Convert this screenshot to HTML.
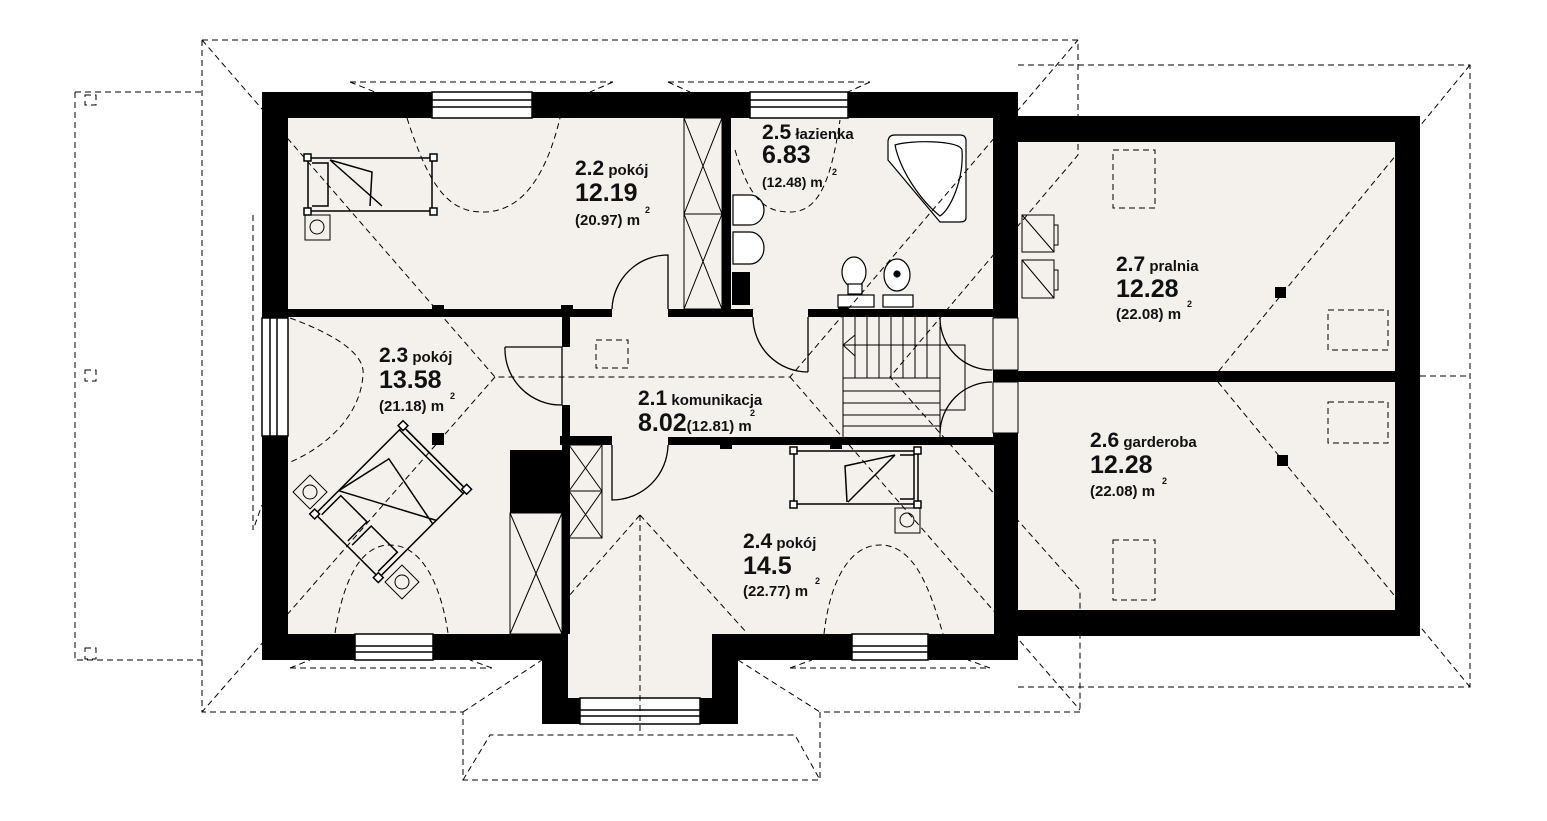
<!DOCTYPE html>
<html><head><meta charset="utf-8"><style>
html,body{margin:0;padding:0;background:#fff}
svg{display:block}
text{font-family:"Liberation Sans Narrow","Liberation Sans",sans-serif;fill:#111;font-weight:bold}
.n{font-size:21px}.b{font-size:25px}.s{font-size:15px;font-weight:normal}.w{font-size:15px}.sup{font-size:9px}
</style></head><body>
<svg width="1547" height="821" viewBox="0 0 1547 821" xmlns="http://www.w3.org/2000/svg">
<rect width="1547" height="821" fill="#fff"/>
<rect x="262" y="92" width="756" height="568" fill="#000"/>
<rect x="542" y="630" width="196" height="94" fill="#000"/>
<rect x="1018" y="116" width="402" height="520" fill="#000"/>
<g fill="#f4f1ec">
<rect x="288" y="118" width="434" height="191"/>
<rect x="731" y="118" width="262" height="191"/>
<rect x="288" y="317" width="705" height="120"/>
<rect x="612" y="308" width="56" height="10"/>
<rect x="753" y="308" width="55" height="10"/>
<rect x="568" y="445" width="426" height="189"/>
<rect x="568" y="630" width="144" height="68"/>
<rect x="612" y="436" width="56" height="10"/>
<rect x="288" y="436" width="274" height="198"/>
<rect x="1018" y="142" width="377" height="229"/>
<rect x="1018" y="382" width="377" height="228"/>
<rect x="993" y="318" width="25" height="52"/>
<rect x="993" y="382" width="25" height="51"/>
</g>
<g fill="#000">
<rect x="562" y="317" width="8" height="30"/>
<rect x="562" y="405" width="8" height="229"/>
<rect x="560" y="436" width="52" height="9"/>
<rect x="510" y="450" width="52" height="63"/>
<rect x="732" y="272" width="18" height="33"/>
<rect x="432" y="305" width="12" height="12"/>
<rect x="561" y="305" width="12" height="12"/>
<rect x="432" y="433" width="12" height="12"/>
<rect x="1275" y="287" width="11" height="11"/>
<rect x="1277" y="455" width="11" height="11"/>
<rect x="838" y="305" width="10" height="10"/>
<rect x="720" y="441" width="12" height="8"/>
<rect x="830" y="441" width="12" height="8"/>
</g>
<g fill="#fff" stroke="#000" stroke-width="1.5">
<rect x="432" y="92" width="100" height="26"/>
<rect x="750" y="92" width="98" height="26"/>
<rect x="262" y="318" width="26" height="118"/>
<rect x="355" y="634" width="78" height="26"/>
<rect x="852" y="634" width="76" height="26"/>
<rect x="580" y="698" width="120" height="26"/>
</g>
<g stroke="#000" stroke-width="1.5" fill="none">
<path d="M432 100H532M432 107H532M750 100H848M750 107H848M270 318V436M277 318V436M355 646H433M355 652H433M852 646H928M852 652H928M580 710H700M580 716H700"/>
<rect x="993" y="318" width="25" height="52" stroke-width="1"/>
<rect x="993" y="382" width="25" height="51" stroke-width="1"/>
</g>
<g stroke="#000" stroke-width="1.3" fill="none">
<path d="M668 309V255A56 56 0 0 0 612 309"/>
<path d="M505 347H562V405A56 56 0 0 1 505 347"/>
<path d="M612 445V500A56 56 0 0 0 668 445"/>
<path d="M753 317A55 55 0 0 0 808 372H808"/>
<path d="M808 317V372"/>
<path d="M940 318A52 52 0 0 0 992 370"/>
<path d="M940 433A52 52 0 0 1 992 382"/>
</g>
<g stroke="#000" stroke-width="1" fill="none">
<rect x="684" y="118" width="38" height="191"/>
<path d="M684 214H722M684 118L722 214M722 118L684 214M684 214L722 309M722 214L684 309"/>
<rect x="569" y="445" width="33" height="93"/>
<path d="M569 491H602M569 445L602 491M602 445L569 491M569 491L602 538M602 491L569 538"/>
<rect x="510" y="513" width="52" height="121"/>
<path d="M510 513L562 634M562 513L510 634"/>
</g>
<g stroke="#000" stroke-width="1" fill="none">
<path d="M843 317V437M855 317V378M867 317V378M879 317V378M891 317V378M903 317V378M915 317V378M927 317V378M940 317V437"/>
<path d="M843 345H965V410H940M843 378H940M843 391H940M843 403H940M843 415H940M843 426H940"/>
<path d="M855 335L843 345L855 356Z"/>
</g>
<g stroke="#000" stroke-width="1.2" fill="#fff">
<path d="M895 135H960Q966 135 966 141V218Q966 222 960 222H940L888 160V142Q888 135 895 135Z"/>
<path d="M895 145C910 140 960 140 962 150C964 180 950 210 940 216C920 200 900 170 895 145Z" fill="none"/>
<path d="M733 195H750A14 15 0 0 1 750 225H733Z"/>
<path d="M733 232H750A14 16 0 0 1 750 264H733Z"/>
<rect x="838" y="295" width="36" height="12"/>
<ellipse cx="854" cy="272" rx="12" ry="15"/>
<rect x="848" y="284" width="14" height="10"/>
<ellipse cx="897" cy="275" rx="13" ry="16"/>
<circle cx="897" cy="274" r="3" fill="#000"/>
<rect x="883" y="295" width="30" height="12"/>
</g>
<g stroke="#000" stroke-width="1.5" fill="none">
<rect x="308" y="158" width="124" height="53"/>
<path d="M312 163H328V206H312M330 160L372 172L370 206M330 160L382 206"/>
<rect x="304" y="154" width="7" height="7" fill="#fff"/><rect x="430" y="154" width="7" height="7" fill="#fff"/>
<rect x="304" y="208" width="7" height="7" fill="#fff"/><rect x="430" y="208" width="7" height="7" fill="#fff"/>
<rect x="305" y="215" width="25" height="25" stroke-width="1"/><circle cx="317" cy="227" r="7" stroke-width="1"/>
<rect x="794" y="451" width="124" height="53"/>
<path d="M900 455H914V499H900M895 455L845 466L847 502M895 455L848 502"/>
<rect x="790" y="447" width="7" height="7" fill="#fff"/><rect x="914" y="447" width="7" height="7" fill="#fff"/>
<rect x="790" y="501" width="7" height="7" fill="#fff"/><rect x="914" y="501" width="7" height="7" fill="#fff"/>
<rect x="895" y="508" width="25" height="25" stroke-width="1"/><circle cx="907" cy="520" r="7" stroke-width="1"/>
<g transform="rotate(-45 391 502)">
<rect x="329" y="457" width="124" height="90"/>
<path d="M333 462H360V499H333M333 505H360V542H333M362 457L420 470L405 547M362 457L410 547"/>
<path d="M453 457V547M448 457V547"/>
<rect x="325" y="453" width="7" height="7" fill="#fff"/><rect x="450" y="453" width="7" height="7" fill="#fff"/>
<rect x="325" y="543" width="7" height="7" fill="#fff"/><rect x="450" y="543" width="7" height="7" fill="#fff"/>
</g>
<g transform="rotate(45 310 492)"><rect x="298" y="480" width="24" height="24" stroke-width="1"/><circle cx="310" cy="492" r="7" stroke-width="1"/></g>
<g transform="rotate(45 402 582)"><rect x="390" y="570" width="24" height="24" stroke-width="1"/><circle cx="402" cy="582" r="7" stroke-width="1"/></g>
</g>
<g stroke="#000" stroke-width="1" fill="none">
<rect x="1022" y="215" width="32" height="37"/><path d="M1022 215L1054 252M1054 225H1058V245H1054"/>
<rect x="1022" y="260" width="32" height="38"/><path d="M1022 260L1054 298M1054 270H1058V290H1054"/>
</g>
<g stroke="#000" stroke-width="1" fill="none" stroke-dasharray="6,4">
<path d="M202 40H1078V155L890 377L1080 590V712"/>
<path d="M202 40V712H463V780H820V712H1080"/>
<path d="M75 92H202M75 92V660H202"/>
<path d="M202 40L495 377H790L1078 40"/>
<path d="M495 377L202 712"/>
<path d="M790 377L1080 710"/>
<path d="M463 712L542 660M738 660L820 712"/>
<path d="M463 780L490 735H795L820 780"/>
<path d="M1018 65H1470V687H1018"/>
<path d="M1470 65L1218 372M1218 382L1470 687M1420 376H1470"/>
<path d="M253 215V530L262 505"/>
<path d="M350 82H613M350 82L375 92M613 82L590 92M668 82H870M668 82L690 92M870 82L848 92"/>
<path d="M290 668H492M290 668L310 660M492 668L470 660M790 668H990M790 668L812 660M990 668L968 660"/>
<path d="M640 515L568 597M640 515L747 633M640 515V735"/>
<path d="M407 118C430 190 450 212 483 212C520 212 545 180 560 118"/>
<path d="M735 150C750 200 765 212 790 212C815 212 830 190 840 120"/>
<path d="M290 318C350 340 365 360 363 375C360 420 320 450 288 463"/>
<path d="M335 633C345 570 365 545 390 545C420 545 440 580 448 633"/>
<path d="M824 634C830 580 850 545 880 545C915 545 930 590 943 634"/>
<rect x="596" y="340" width="32" height="28"/>
<rect x="1113" y="150" width="42" height="58"/>
<rect x="1328" y="310" width="60" height="40"/>
<rect x="1328" y="402" width="60" height="41"/>
<rect x="1113" y="540" width="42" height="60"/>
<rect x="85" y="95" width="11" height="10"/>
<rect x="85" y="370" width="11" height="11"/>
<rect x="85" y="648" width="11" height="11"/>
</g>
<text x="575" y="175"><tspan class="n">2.2</tspan><tspan class="w"> pokój</tspan></text>
<text x="575" y="201" class="b">12.19</text>
<text x="575" y="225" class="w">(20.97) m</text><text x="645" y="213" class="sup">2</text>
<text x="762" y="139"><tspan class="n">2.5</tspan><tspan class="w"> łazienka</tspan></text>
<text x="762" y="163" class="b">6.83</text>
<text x="762" y="187" class="w" style="font-size:14px">(12.48) m</text><text x="832" y="175" class="sup">2</text>
<text x="379" y="362"><tspan class="n">2.3</tspan><tspan class="w"> pokój</tspan></text>
<text x="379" y="388" class="b">13.58</text>
<text x="379" y="411" class="w">(21.18) m</text><text x="450" y="399" class="sup">2</text>
<text x="638" y="405"><tspan class="n">2.1</tspan><tspan class="w"> komunikacja</tspan></text>
<text x="638" y="431"><tspan class="b">8.02</tspan><tspan class="w">(12.81) m</tspan></text><text x="750" y="416" class="sup">2</text>
<text x="743" y="548"><tspan class="n">2.4</tspan><tspan class="w"> pokój</tspan></text>
<text x="743" y="574" class="b">14.5</text>
<text x="743" y="596" class="w">(22.77) m</text><text x="815" y="584" class="sup">2</text>
<text x="1116" y="271"><tspan class="n">2.7</tspan><tspan class="w"> pralnia</tspan></text>
<text x="1116" y="297" class="b">12.28</text>
<text x="1116" y="319" class="w">(22.08) m</text><text x="1187" y="307" class="sup">2</text>
<text x="1090" y="447"><tspan class="n">2.6</tspan><tspan class="w"> garderoba</tspan></text>
<text x="1090" y="473" class="b">12.28</text>
<text x="1090" y="496" class="w">(22.08) m</text><text x="1162" y="484" class="sup">2</text>
</svg>
</body></html>
